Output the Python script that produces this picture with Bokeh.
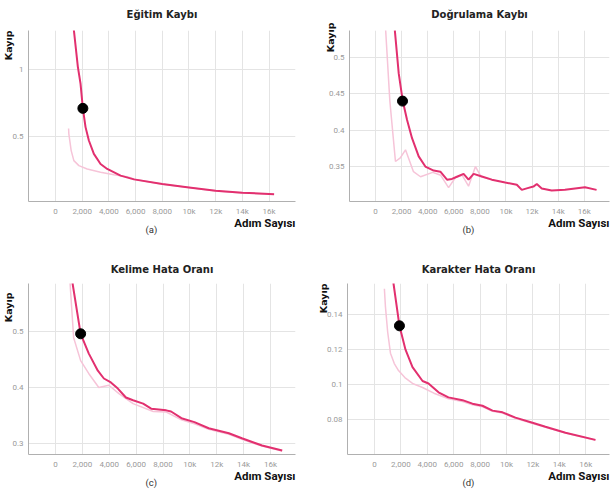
from bokeh.plotting import figure
from bokeh.layouts import column, row
from bokeh.models import Title, FixedTicker, Range1d
from bokeh.embed import file_html
from bokeh.resources import INLINE

# ---------------- data ----------------
titles = ["Eğitim Kaybı", "Doğrulama Kaybı", "Kelime Hata Oranı", "Karakter Hata Oranı"]
captions = ["(a)", "(b)", "(c)", "(d)"]
y_label = "Kayıp"
x_label = "Adım Sayısı"

x_ticks = [0, 2000, 4000, 6000, 8000, 10000, 12000, 14000, 16000]
x_tick_labels = ["0", "2,000", "4,000", "6,000", "8,000", "10k", "12k", "14k", "16k"]

# (a) Eğitim Kaybı
a_main_steps = [1300, 1375, 1675, 1875, 2050, 2250, 2500, 2875, 3375, 3875, 4875, 5875, 8000, 10000, 12000, 14000, 16375]
a_main_vals = [1.40, 1.295, 1.02, 0.895, 0.71, 0.57, 0.47, 0.37, 0.295, 0.258, 0.208, 0.18, 0.145, 0.12, 0.095, 0.08, 0.07]
a_faint_steps = [980, 1000, 1175, 1375, 1750, 2375, 3375, 4375, 5375, 6000, 8000, 10000, 12000, 14000, 16375]
a_faint_vals = [0.56, 0.52, 0.395, 0.32, 0.2825, 0.2575, 0.2325, 0.215, 0.20, 0.18, 0.144, 0.119, 0.094, 0.079, 0.069]
a_yticks = [0.5, 1.0]
a_ytick_labels = ["0.5", "1"]

# (b) Doğrulama Kaybı
b_main_steps = [1480, 1780, 2090, 2420, 2800, 3310, 3820, 4460, 4970, 5480, 5860, 6240, 6750, 7130, 7520, 8030, 8920,
                9940, 10830, 11210, 11590, 12100, 12360, 12740, 13500, 14520, 15290, 16050, 16940]
b_main_vals = [0.5375, 0.478, 0.44, 0.414, 0.389, 0.364, 0.35, 0.3445, 0.343, 0.332, 0.333, 0.336, 0.34, 0.332, 0.34,
               0.337, 0.332, 0.328, 0.325, 0.318, 0.320, 0.3225, 0.326, 0.32, 0.317, 0.318, 0.32, 0.3215, 0.318]
b_faint_steps = [770, 1100, 1530, 1900, 2300, 2910, 3450, 4380, 5000, 5600, 6130, 6650, 7130, 7660, 8100, 8500, 9000]
b_faint_vals = [0.54, 0.44, 0.357, 0.362, 0.373, 0.343, 0.336, 0.342, 0.338, 0.321, 0.335, 0.338, 0.323, 0.35, 0.336, 0.334, 0.331]
b_yticks = [0.35, 0.4, 0.45, 0.5]
b_ytick_labels = ["0.35", "0.4", "0.45", "0.5"]

# (c) Kelime Hata Oranı
c_main_steps = [1200, 1270, 1870, 2470, 3150, 3600, 4120, 4640, 5240, 5770, 6520, 7120, 8240, 8600, 9370, 10340, 11400,
                12900, 13870, 15370, 16870]
c_main_vals = [0.60, 0.586, 0.496, 0.461, 0.43, 0.416, 0.409, 0.398, 0.382, 0.377, 0.371, 0.362, 0.359, 0.357, 0.345,
               0.338, 0.327, 0.318, 0.309, 0.296, 0.287]
c_faint_steps = [1050, 1120, 1350, 1870, 2470, 3220, 3970, 4720, 5770, 7270, 8240, 9370, 10340, 11400, 12900, 13870,
                 15370, 16870]
c_faint_vals = [0.60, 0.573, 0.489, 0.448, 0.425, 0.40, 0.404, 0.389, 0.371, 0.357, 0.356, 0.342, 0.335, 0.325, 0.316,
                0.307, 0.295, 0.286]
c_yticks = [0.3, 0.4, 0.5]
c_ytick_labels = ["0.3", "0.4", "0.5"]

# (d) Karakter Hata Oranı
d_main_steps = [1400, 1440, 1890, 2350, 2880, 3640, 4090, 4850, 5600, 6670, 7420, 8180, 8940, 9700, 10680, 11970, 12950,
                14470, 16740]
d_main_vals = [0.162, 0.158, 0.1337, 0.12, 0.11, 0.102, 0.1006, 0.0955, 0.0926, 0.091, 0.089, 0.0878, 0.085, 0.084,
               0.081, 0.078, 0.0757, 0.0723, 0.0682]
d_faint_steps = [750, 830, 1000, 1210, 1500, 1820, 2300, 2880, 3640, 4500, 5600, 6670, 7420, 8180, 8940, 9700, 10680,
                 11970, 12950, 14470, 16740]
d_faint_vals = [0.155, 0.1446, 0.13, 0.118, 0.112, 0.108, 0.104, 0.1006, 0.0983, 0.095, 0.0918, 0.0902, 0.0884, 0.0872,
                0.0846, 0.0836, 0.0806, 0.0776, 0.0754, 0.0721, 0.068]
d_yticks = [0.08, 0.1, 0.12, 0.14]
d_ytick_labels = ["0.08", "0.1", "0.12", "0.14"]

dot_steps = [2050, 2070, 1870, 1890]
dot_vals = [0.71, 0.44, 0.496, 0.1337]

# ---------------- styling / layout ----------------
MAIN = "#e2306f"
FAINT = "#f6c4d8"
GRID = "#e4e4e4"
AXIS = "#b0b0b0"
TICKTXT = "#9a9a9a"
FONT = "Roboto"
TITLE_FONT = "DejaVu Sans"

geoms = [
    dict(W=305, H=250, L=28, R=295, T=30, B=201, xr=(-2022, 17978), yr=(0.015, 1.291), cap_x=145, tstand=17,
         ystand=-8, yoff=0),
    dict(W=306, H=250, L=44, R=304, T=30, B=202, xr=(-1992, 17931), yr=(0.302, 0.537), cap_x=157, tstand=17,
         ystand=-21, yoff=-8),
    dict(W=305, H=248, L=28, R=295, T=33, B=204, xr=(-2010, 17860), yr=(0.28, 0.586), cap_x=145, tstand=14,
         ystand=-8, yoff=9),
    dict(W=306, H=248, L=42, R=304, T=33, B=204, xr=(-2045, 17803), yr=(0.0598, 0.158), cap_x=157, tstand=14,
         ystand=-11, yoff=0),
]

series = [
    (a_main_steps, a_main_vals, a_faint_steps, a_faint_vals, a_yticks, a_ytick_labels),
    (b_main_steps, b_main_vals, b_faint_steps, b_faint_vals, b_yticks, b_ytick_labels),
    (c_main_steps, c_main_vals, c_faint_steps, c_faint_vals, c_yticks, c_ytick_labels),
    (d_main_steps, d_main_vals, d_faint_steps, d_faint_vals, d_yticks, d_ytick_labels),
]


def make_panel(i):
    g = geoms[i]
    ms, mv, fs, fv, yt, ytl = series[i]
    p = figure(width=g["W"], height=g["H"], output_backend="svg", toolbar_location=None,
               title=None, x_range=Range1d(*g["xr"]), y_range=Range1d(*g["yr"]),
               min_border_left=g["L"], min_border_right=g["W"] - g["R"],
               min_border_top=g["T"], min_border_bottom=g["H"] - g["B"])
    p.outline_line_color = None
    p.background_fill_color = "white"
    p.border_fill_color = "white"

    p.xaxis.ticker = FixedTicker(ticks=x_ticks)
    p.xaxis.major_label_overrides = {t: l for t, l in zip(x_ticks, x_tick_labels)}
    p.yaxis.ticker = FixedTicker(ticks=yt)
    p.yaxis.major_label_overrides = {t: l for t, l in zip(yt, ytl)}
    for ax in (p.xaxis, p.yaxis):
        ax.axis_line_color = AXIS
        ax.axis_line_width = 1
        ax.major_tick_line_color = None
        ax.minor_tick_line_color = None
        ax.major_tick_out = 0
        ax.major_tick_in = 0
        ax.minor_tick_out = 0
        ax.minor_tick_in = 0
        ax.axis_label_standoff = 0
        ax.major_label_text_color = TICKTXT
        ax.major_label_text_font = FONT
        ax.major_label_text_font_size = "8px"
        ax.major_label_standoff = 5
    p.xgrid.grid_line_color = GRID
    p.ygrid.grid_line_color = GRID
    p.xgrid.ticker = FixedTicker(ticks=x_ticks)
    p.ygrid.ticker = FixedTicker(ticks=yt)

    p.line(fs, fv, line_color=FAINT, line_width=1.5)
    p.line(ms, mv, line_color=MAIN, line_width=2)
    p.scatter([dot_steps[i]], [dot_vals[i]], size=10, color="black")

    p.add_layout(Title(text=titles[i], align="center", vertical_align="top", text_font=TITLE_FONT,
                       text_font_size="10px", text_font_style="bold", text_color="#222222",
                       standoff=g["tstand"]), "above")
    p.add_layout(Title(text=y_label, align="right", offset=g["yoff"], text_font=TITLE_FONT,
                       text_font_size="9.5px", text_font_style="bold", text_color="#111111",
                       standoff=g["ystand"]), "left")
    p.add_layout(Title(text=x_label, align="right", text_font=FONT, text_font_size="11.5px",
                       text_font_style="bold", text_color="#111111", standoff=-9), "below")
    p.add_layout(Title(text=captions[i], align="left", offset=g["cap_x"] - g["L"], text_font=FONT,
                       text_font_size="9.5px", text_font_style="normal", text_color="#333333",
                       standoff=-8), "below")
    return p


panels = [make_panel(i) for i in range(4)]
layout = column(row(panels[0], panels[1]), row(panels[2], panels[3]))

open("out.html", "w").write(file_html(layout, INLINE))
